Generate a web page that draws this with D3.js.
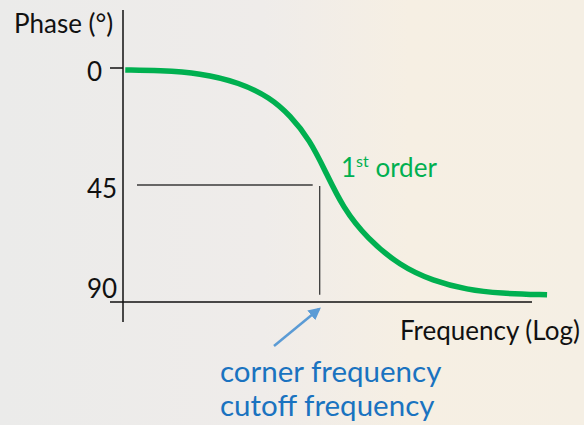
<!DOCTYPE html>
<html>
<head>
<meta charset="utf-8" />
<script src="https://cdn.jsdelivr.net/npm/d3@7"></script>
<style>
  body { margin: 0; }
  .lbl { font-family: Lato, "Open Sans", sans-serif; font-size: 26px; fill: #111; }
  .blue { fill: #1a73c0; font-size: 29.5px; }
  .green { fill: #00b050; font-size: 26px; }
</style>
</head>
<body>
<script>
// frequency relative to the corner frequency (log axis)
var freq  = [0.0105, 0.022, 0.053, 0.126, 0.242, 0.373, 0.575, 0.796, 1.18, 1.98, 4.04, 8.28, 17.3, 35.4, 98];
// phase lag in degrees
var phase = [0, 0.2, 1.2, 5, 11, 18, 28, 40, 55, 67, 78, 84, 87.5, 89, 89.5];
var phaseTicks = [0, 45, 90];
var tickBaseline = [81, 198, 298];
var cornerFreq = 0.71;

var width = 584, height = 425;

var svg = d3.select("body").append("svg")
    .attr("width", width)
    .attr("height", height);

var defs = svg.append("defs");
var grad = defs.append("linearGradient").attr("id", "bg")
    .attr("x1", "0").attr("x2", "1").attr("y1", "0").attr("y2", "0");
grad.append("stop").attr("offset", "0").attr("stop-color", "#ebebea");
grad.append("stop").attr("offset", "0.45").attr("stop-color", "#efecea");
grad.append("stop").attr("offset", "0.7").attr("stop-color", "#f6efe3");
grad.append("stop").attr("offset", "1").attr("stop-color", "#f5efe4");

svg.append("rect").attr("width", width).attr("height", height).attr("fill", "url(#bg)");

var x = d3.scaleLog().domain([0.01, 100]).range([123, 548]);
var y = d3.scaleLinear().domain([0, 90]).range([70, 296]);

// axes
svg.append("line").attr("x1", 123).attr("x2", 123).attr("y1", 10).attr("y2", 322)
    .attr("stroke", "#111").attr("stroke-width", 1.5);
svg.append("line").attr("x1", 110).attr("x2", 532).attr("y1", 302).attr("y2", 302)
    .attr("stroke", "#111").attr("stroke-width", 1.5);
svg.append("line").attr("x1", 110).attr("x2", 123).attr("y1", 68).attr("y2", 68)
    .attr("stroke", "#111").attr("stroke-width", 1.5);

// tick labels
svg.selectAll(".tk").data(phaseTicks).enter().append("text")
    .attr("class", "lbl tk")
    .attr("x", 87)
    .attr("y", function(d, i) { return tickBaseline[i]; })
    .text(function(d) { return d; });

svg.append("text").attr("class", "lbl").attr("x", 14).attr("y", 33).text("Phase (°)");
svg.append("text").attr("class", "lbl").attr("x", 400).attr("y", 340).text("Frequency (Log)");

// 45 degree guides
svg.append("line").attr("x1", 137).attr("x2", x(cornerFreq) - 7)
    .attr("y1", 185).attr("y2", 185)
    .attr("stroke", "#3a3a3a").attr("stroke-width", 1.3);
svg.append("line").attr("x1", x(cornerFreq)).attr("x2", x(cornerFreq))
    .attr("y1", 186).attr("y2", y(89.5))
    .attr("stroke", "#3a3a3a").attr("stroke-width", 1.3);

// phase curve
var pts = freq.map(function(f, i) { return [x(f), y(phase[i])]; });
svg.append("path")
    .attr("d", d3.line().curve(d3.curveBasis)(pts))
    .attr("fill", "none")
    .attr("stroke", "#00b050")
    .attr("stroke-width", 5.5);

var t = svg.append("text").attr("class", "lbl green").attr("x", 341).attr("y", 177);
t.append("tspan").text("1");
t.append("tspan").attr("dy", -10).attr("font-size", 16).text("st");
t.append("tspan").attr("dy", 10).text(" order");

// arrow to corner frequency
defs.append("marker").attr("id", "ah")
    .attr("viewBox", "0 0 10 10").attr("refX", 8).attr("refY", 5)
    .attr("markerWidth", 5).attr("markerHeight", 5).attr("orient", "auto")
    .append("path").attr("d", "M0,0 L10,5 L0,10 z").attr("fill", "#5b9bd5");
svg.append("line").attr("x1", 274).attr("y1", 346).attr("x2", 319).attr("y2", 309)
    .attr("stroke", "#5b9bd5").attr("stroke-width", 2.5)
    .attr("marker-end", "url(#ah)");

svg.append("text").attr("class", "lbl blue").attr("x", 220).attr("y", 382).text("corner frequency");
svg.append("text").attr("class", "lbl blue").attr("x", 220).attr("y", 416).text("cutoff frequency");
</script>
</body>
</html>
